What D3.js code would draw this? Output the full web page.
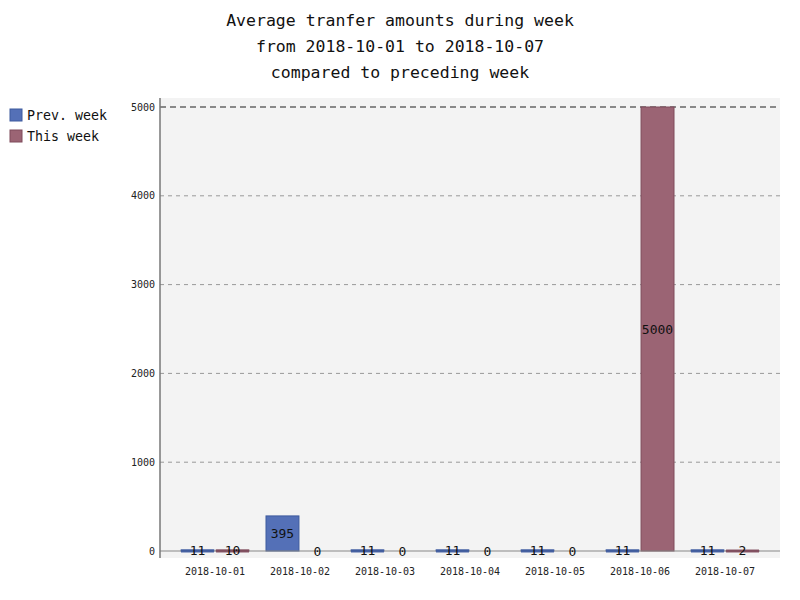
<!DOCTYPE html>
<html>
<head>
<meta charset="utf-8">
<title>Average tranfer amounts</title>
<script src="https://cdn.jsdelivr.net/npm/d3@7"></script>
<style>
  body { margin: 0; background: #fff; }
  text { font-family: "DejaVu Sans Mono", monospace; }
</style>
</head>
<body>
<script>
var days = ["2018-10-01", "2018-10-02", "2018-10-03", "2018-10-04", "2018-10-05", "2018-10-06", "2018-10-07"];
var prevWeek = [11, 395, 11, 11, 11, 11, 11];
var thisWeek = [10, 0, 0, 0, 0, 5000, 2];
var seriesNames = ["Prev. week", "This week"];
var yTicks = [0, 1000, 2000, 3000, 4000, 5000];
var titleLines = ["Average tranfer amounts during week", "from 2018-10-01 to 2018-10-07", "compared to preceding week"];

var fills = ["#5470b7", "#9b6474"];
var strokes = ["#3d5a9e", "#7e4a5b"];

var W = 800, H = 600;
var svg = d3.select("body").append("svg").attr("width", W).attr("height", H);

// title
svg.selectAll("text.title").data(titleLines).enter().append("text")
    .attr("class", "title")
    .attr("x", 400).attr("y", function (d, i) { return 26 + i * 26; })
    .attr("text-anchor", "middle")
    .style("font-size", "16.5px").style("fill", "#111")
    .text(function (d) { return d; });

// plot area
var plotL = 160, plotR = 780, plotT = 98, plotB = 558;
svg.append("rect").attr("x", plotL).attr("y", plotT)
    .attr("width", plotR - plotL).attr("height", plotB - plotT)
    .style("fill", "#f3f3f3");

var y = d3.scaleLinear().domain([0, 5000]).range([551, 107]);
var x = d3.scaleBand().domain(days).range([172.5, 767.5]).paddingInner(0.2).paddingOuter(0.1);
var xs = d3.scaleBand().domain([0, 1]).range([0, x.bandwidth()]).paddingInner(0.06);

// grid
svg.selectAll("line.grid").data(yTicks.slice(1)).enter().append("line")
    .attr("x1", plotL).attr("x2", plotR)
    .attr("y1", function (d) { return y(d); }).attr("y2", function (d) { return y(d); })
    .style("stroke", function (d) { return d === 5000 ? "#666" : "#999"; })
    .style("stroke-width", function (d) { return d === 5000 ? 1.3 : 1; })
    .style("stroke-dasharray", function (d) { return d === 5000 ? "6,4" : "4,4"; });

svg.selectAll("text.ytick").data(yTicks).enter().append("text")
    .attr("class", "ytick")
    .attr("x", 155).attr("y", function (d) { return y(d) + 3.5; })
    .attr("text-anchor", "end")
    .style("font-size", "10px").style("fill", "#222")
    .text(function (d) { return d; });

svg.selectAll("text.xtick").data(days).enter().append("text")
    .attr("class", "xtick")
    .attr("x", function (d) { return x(d) + x.bandwidth() / 2; }).attr("y", 575)
    .attr("text-anchor", "middle")
    .style("font-size", "10px").style("fill", "#222")
    .text(function (d) { return d; });

// bars
var rows = [];
days.forEach(function (d, i) {
    rows.push({ day: d, s: 0, v: prevWeek[i] });
    rows.push({ day: d, s: 1, v: thisWeek[i] });
});

svg.selectAll("rect.bar").data(rows.filter(function (r) { return r.v > 0; })).enter().append("rect")
    .attr("class", "bar")
    .attr("x", function (r) { return x(r.day) + xs(r.s); })
    .attr("width", xs.bandwidth())
    .attr("y", function (r) { return y(r.v); })
    .attr("height", function (r) { return y(0) - y(r.v); })
    .style("fill", function (r) { return fills[r.s]; })
    .style("stroke", function (r) { return strokes[r.s]; })
    .style("stroke-width", 1);

// axes lines
svg.append("line").attr("x1", plotL).attr("x2", plotR).attr("y1", y(0)).attr("y2", y(0))
    .style("stroke", "#888").style("stroke-width", 1.2);
svg.selectAll("rect.thin").data(rows.filter(function (r) { return r.v > 0 && y(0) - y(r.v) < 3; })).enter().append("rect")
    .attr("class", "thin")
    .attr("x", function (r) { return x(r.day) + xs(r.s); })
    .attr("width", xs.bandwidth())
    .attr("y", y(0) - 1.5).attr("height", 3)
    .style("fill", function (r) { return strokes[r.s]; })
    .style("opacity", 0.9);
svg.append("line").attr("x1", plotL).attr("x2", plotL).attr("y1", plotT).attr("y2", plotB)
    .style("stroke", "#777").style("stroke-width", 1.5);

// value labels
svg.selectAll("text.val").data(rows).enter().append("text")
    .attr("class", "val")
    .attr("x", function (r) { return x(r.day) + xs(r.s) + xs.bandwidth() / 2; })
    .attr("y", function (r) { return (y(r.v) + y(0)) / 2 + 4.5; })
    .attr("text-anchor", "middle")
    .style("font-size", "13px").style("fill", "#111")
    .text(function (r) { return r.v; });

// legend
var lg = svg.selectAll("g.legend").data(seriesNames).enter().append("g")
    .attr("class", "legend")
    .attr("transform", function (d, i) { return "translate(10," + (109 + i * 21) + ")"; });
lg.append("rect").attr("width", 12).attr("height", 12)
    .style("fill", function (d, i) { return fills[i]; })
    .style("stroke", function (d, i) { return strokes[i]; });
lg.append("text").attr("x", 17).attr("y", 10.5)
    .style("font-size", "13.3px").style("fill", "#111")
    .text(function (d) { return d; });
</script>
</body>
</html>
